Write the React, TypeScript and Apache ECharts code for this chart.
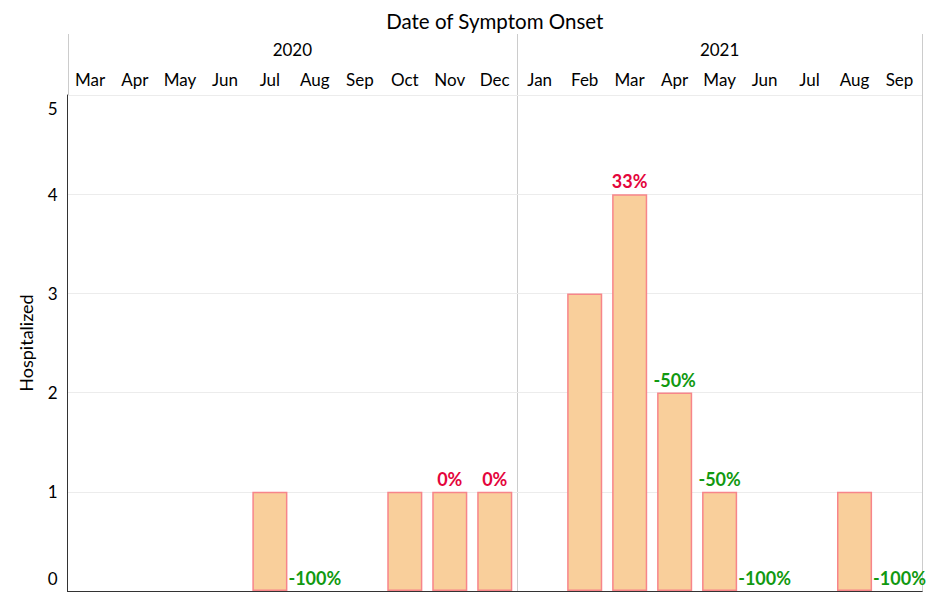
import React, { useEffect, useRef } from "react";
import * as echarts from "echarts";

const months = ["Mar", "Apr", "May", "Jun", "Jul", "Aug", "Sep", "Oct", "Nov", "Dec", "Jan", "Feb", "Mar", "Apr", "May", "Jun", "Jul", "Aug", "Sep"];
const years = ["2020", "2021"];
const yearStart = [0, 10];
const yearEnd = [10, 19];
const hospitalized = [0, 0, 0, 0, 1, 0, 0, 1, 1, 1, 0, 3, 4, 2, 1, 0, 0, 1, 0];
const pctChange = ["", "", "", "", "", "-100%", "", "", "0%", "0%", "", "", "33%", "-50%", "-50%", "-100%", "", "", "-100%"];
const yTicks = [0, 1, 2, 3, 4, 5];

const FONT = "Lato, 'Noto Sans', sans-serif";

export default function App() {
  const ref = useRef<HTMLDivElement>(null);
  useEffect(() => {
    if (!ref.current) return;
    const chart = echarts.init(ref.current, undefined, { renderer: "svg" });
    const yMax = yTicks[yTicks.length - 1];
    const option: any = {
      animation: false,
      textStyle: { fontFamily: FONT },
      grid: { left: 67.5, right: 13, top: 95, bottom: 1, containLabel: false },
      xAxis: [
        {
          type: "category",
          data: months,
          position: "top",
          name: "Date of Symptom Onset",
          nameLocation: "middle",
          nameGap: 64,
          nameTextStyle: { fontSize: 20.5, color: "#000", fontFamily: FONT },
          axisLine: { show: true, lineStyle: { color: "#333", width: 1 } },
          axisTick: { show: false },
          axisLabel: { fontSize: 17, color: "#000", margin: 7, interval: 0, fontFamily: FONT },
          splitLine: { show: false },
        },
        {
          type: "value",
          position: "top",
          min: 0,
          max: months.length,
          interval: 0.5,
          axisLine: { show: false },
          axisTick: { show: false },
          splitLine: { show: false },
          axisLabel: {
            fontSize: 17,
            color: "#000",
            margin: 37,
            fontFamily: FONT,
            showMinLabel: true,
            showMaxLabel: true,
            formatter: (v: number) => {
              for (let i = 0; i < years.length; i++) {
                if (Math.abs(v - (yearStart[i] + yearEnd[i]) / 2) < 1e-6) return years[i];
              }
              return "";
            },
          },
        },
        {
          type: "category",
          data: months,
          position: "bottom",
          axisLine: { show: true, lineStyle: { color: "#333", width: 1 } },
          axisTick: { show: false },
          axisLabel: { show: false },
        },
      ],
      yAxis: {
        type: "value",
        min: 0,
        max: yMax,
        interval: 1,
        name: "Hospitalized",
        nameLocation: "middle",
        nameGap: 33,
        nameTextStyle: { fontSize: 18, color: "#000", fontFamily: FONT },
        axisLine: { show: true, lineStyle: { color: "#333", width: 1 } },
        axisTick: { show: false },
        splitLine: { show: true, lineStyle: { color: "#ececec", width: 1 } },
        axisLabel: {
          fontSize: 17,
          color: "#000",
          margin: 10,
          formatter: (v: number) => (v === yMax ? `{top|${v}}` : v === 0 ? `{bot|${v}}` : `{mid|${v}}`),
          rich: {
            top: { fontSize: 17, color: "#000", fontFamily: FONT, padding: [26, 0, 0, 0] },
            bot: { fontSize: 17, color: "#000", fontFamily: FONT, padding: [0, 0, 26, 0] },
            mid: { fontSize: 17, color: "#000", fontFamily: FONT },
          },
        },
      },
      series: [
        {
          type: "bar",
          xAxisIndex: 0,
          barWidth: "78%",
          itemStyle: { color: "#f9cf9b", borderColor: "#f7858a", borderWidth: 1.5 },
          label: { show: true, position: "top", distance: 4, fontSize: 18, fontWeight: "bold", fontFamily: FONT },
          data: hospitalized.map((v, i) => ({
            value: v,
            itemStyle: v === 0 ? { borderWidth: 0 } : undefined,
            label: {
              show: pctChange[i] !== "",
              formatter: pctChange[i],
              color: pctChange[i].startsWith("-") ? "#119911" : "#e4053c",
            },
          })),
        },
      ],
    };
    chart.setOption(option);

    const yTop = chart.convertToPixel({ yAxisIndex: 0 }, yMax) as number;
    const yBot = chart.convertToPixel({ yAxisIndex: 0 }, 0) as number;
    const lineTop = yTop - 61;
    const bounds = [0, ...yearEnd];
    const graphics = bounds.map((b) => {
      const x = Math.round(chart.convertToPixel({ xAxisIndex: 1 }, b) as number) + 0.5;
      const y2 = b === 0 ? yTop : yBot;
      return {
        type: "line",
        z: -1,
        shape: { x1: x, y1: lineTop, x2: x, y2 },
        style: { stroke: "#cccccc", lineWidth: 1 },
      };
    });
    chart.setOption({ graphic: graphics });

    return () => chart.dispose();
  }, []);
  return <div ref={ref} style={{ width: 935, height: 592, position: "absolute", left: 0, top: 0 }} />;
}
